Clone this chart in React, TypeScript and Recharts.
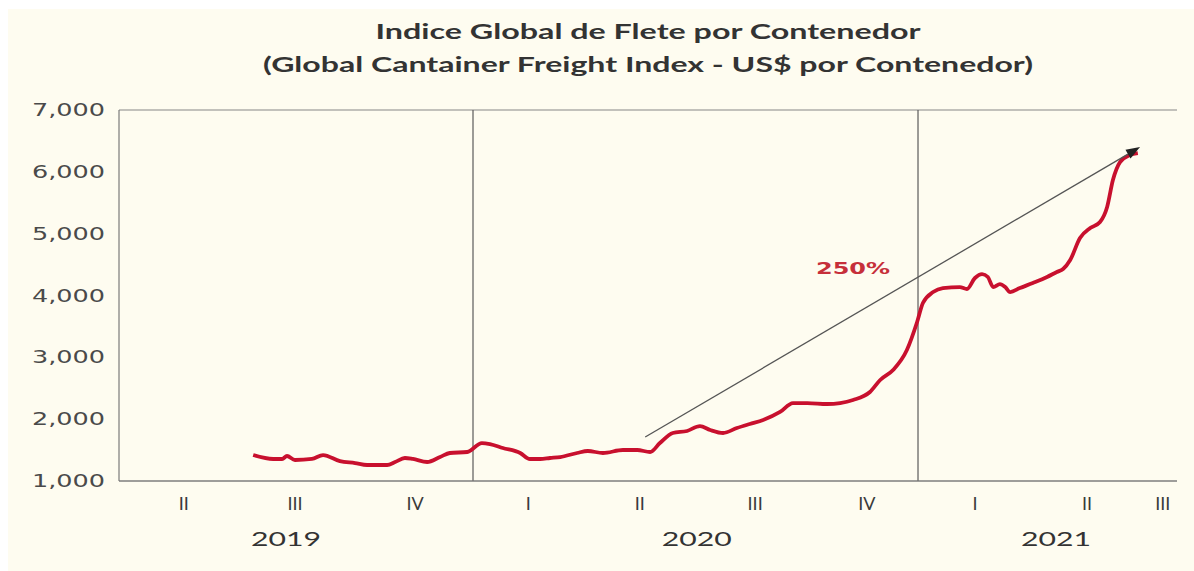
import { LineChart, Line, XAxis, YAxis, CartesianGrid, ReferenceLine, ReferenceDot } from 'recharts';

// weekly index, position as fractional year
const weekPos = [
  2019.506, 2019.551, 2019.571, 2019.582, 2019.6, 2019.638, 2019.663, 2019.701, 2019.735, 2019.762,
  2019.807, 2019.825, 2019.847, 2019.865, 2019.897, 2019.926, 2019.948, 2019.987, 2020.02, 2020.038,
  2020.067, 2020.106, 2020.128, 2020.151, 2020.173, 2020.196, 2020.234, 2020.258, 2020.292, 2020.337,
  2020.369, 2020.398, 2020.42, 2020.449, 2020.481, 2020.51, 2020.533, 2020.562, 2020.593, 2020.622,
  2020.652, 2020.69, 2020.719, 2020.751, 2020.796, 2020.825, 2020.854, 2020.892, 2020.915, 2020.944,
  2020.975, 2020.998, 2021.011, 2021.034, 2021.056, 2021.094, 2021.11, 2021.128, 2021.144, 2021.157,
  2021.169, 2021.184, 2021.196, 2021.207, 2021.229, 2021.258, 2021.29, 2021.312, 2021.326, 2021.342,
  2021.364, 2021.387, 2021.409, 2021.425, 2021.438, 2021.454, 2021.476, 2021.494,
];
const freight = [
  1420, 1356, 1356, 1404, 1340, 1356, 1420, 1323, 1291, 1259,
  1259, 1307, 1372, 1356, 1307, 1388, 1453, 1469, 1614, 1598,
  1534, 1453, 1356, 1356, 1372, 1388, 1453, 1485, 1453, 1501,
  1501, 1469, 1614, 1776, 1809, 1889, 1825, 1776, 1857, 1922,
  1986, 2116, 2261, 2261, 2245, 2261, 2310, 2439, 2633, 2795,
  3118, 3571, 3878, 4056, 4121, 4137, 4105, 4283, 4347, 4299,
  4137, 4185, 4137, 4056, 4121, 4202, 4299, 4380, 4428, 4574,
  4929, 5091, 5188, 5431, 5867, 6158, 6271, 6304,
];

const quarterPos = [2019.35, 2019.6, 2019.87, 2020.124, 2020.375, 2020.634, 2020.885, 2021.128, 2021.38, 2021.55];
const quarterLabels = ['II', 'III', 'IV', 'I', 'II', 'III', 'IV', 'I', 'II', 'III'];
const yearPos = [2019.58, 2020.503, 2021.31];
const yearLabels = ['2019', '2020', '2021'];
const yTicks = [1000, 2000, 3000, 4000, 5000, 6000, 7000];
const yearBreaks = [2020, 2021];
const xDomain = [2019.2045, 2021.582];

// trend arrow and its note
const trendX = [2020.387, 2021.499];
const trendY = [1711, 6401];
const noteX = 2020.854;
const noteY = 4444;
const noteText = '250%';

const titleLines = [
  'Indice Global de Flete por Contenedor',
  '(Global Cantainer Freight Index - US$ por Contenedor)',
];

const data = weekPos.map((t, i) => ({ t, v: freight[i] }));

const YTick = ({ x, y, payload }: any) => (
  <text
    x={x - 6}
    y={y}
    textAnchor="end"
    dominantBaseline="central"
    fontFamily="DejaVu Sans"
    fontSize={17}
    fill="#4a4a4a"
    textLength={73}
    lengthAdjust="spacingAndGlyphs"
  >
    {Number(payload.value).toLocaleString('en-US')}
  </text>
);

const QuarterTick = ({ x, y, index }: any) => (
  <text x={x} y={y + 14} textAnchor="middle" dominantBaseline="central" fontFamily="Lato" fontSize={18} fill="#3a3a3a">
    {quarterLabels[index]}
  </text>
);

const YearTick = ({ x, y, index }: any) => (
  <text
    x={x}
    y={y + 9}
    textAnchor="middle"
    dominantBaseline="central"
    fontFamily="Lato"
    fontSize={20}
    fill="#333"
    textLength={70}
    lengthAdjust="spacingAndGlyphs"
  >
    {yearLabels[index]}
  </text>
);

const Arrow = (props: any) => {
  const { x1, y1, x2, y2 } = props;
  const ang = Math.atan2(y2 - y1, x2 - x1);
  const len = 14;
  const w = 5;
  const bx = x2 - len * Math.cos(ang);
  const by = y2 - len * Math.sin(ang);
  const px = -Math.sin(ang) * w;
  const py = Math.cos(ang) * w;
  return (
    <g>
      <line x1={x1} y1={y1} x2={bx} y2={by} stroke="#555" strokeWidth={1.3} />
      <polygon points={`${x2},${y2} ${bx + px},${by + py} ${bx - px},${by - py}`} fill="#222" />
    </g>
  );
};

const NoteLabel = ({ viewBox }: any) => (
  <text
    x={viewBox.x}
    y={viewBox.y}
    textAnchor="middle"
    dominantBaseline="central"
    fontFamily="DejaVu Sans"
    fontWeight="bold"
    fontSize={16}
    fill="#c62f3a"
    textLength={74}
    lengthAdjust="spacingAndGlyphs"
  >
    {noteText}
  </text>
);

export default function App() {
  return (
    <div style={{ position: 'absolute', left: 0, top: 0, width: 1194, height: 571, background: '#fff' }}>
      <div style={{ position: 'absolute', left: 8, top: 9, right: 0, bottom: 0, background: '#fefcf0' }} />
      <svg width={1194} height={100} style={{ position: 'absolute', left: 0, top: 0 }}>
        <text x={648} y={30} textAnchor="middle" dominantBaseline="central" fontFamily="Lato" fontWeight="bold" fontSize={21} fill="#333" textLength={545} lengthAdjust="spacingAndGlyphs">
          {titleLines[0]}
        </text>
        <text x={648} y={63} textAnchor="middle" dominantBaseline="central" fontFamily="Lato" fontWeight="bold" fontSize={21} fill="#333" textLength={770} lengthAdjust="spacingAndGlyphs">
          {titleLines[1]}
        </text>
      </svg>
      <div style={{ position: 'absolute', left: 0, top: 0 }}>
        <LineChart width={1194} height={571} data={data} margin={{ top: 110, right: 17, bottom: 0, left: 0 }}>
          <CartesianGrid vertical={false} stroke="#858585" strokeWidth={1.2} />
          <XAxis
            xAxisId="q"
            dataKey="t"
            type="number"
            domain={xDomain}
            ticks={quarterPos}
            tick={<QuarterTick />}
            tickLine={false}
            interval={0}
            height={40}
            stroke="#7a7a7a"
            strokeWidth={1.2}
            allowDataOverflow
          />
          <XAxis
            xAxisId="yr"
            dataKey="t"
            type="number"
            domain={xDomain}
            ticks={yearPos}
            tick={<YearTick />}
            tickLine={false}
            axisLine={false}
            interval={0}
            height={50}
            allowDataOverflow
          />
          <YAxis
            yAxisId="l"
            domain={[1000, 7000]}
            ticks={yTicks}
            tick={<YTick />}
            tickLine={false}
            width={119}
            stroke="#7a7a7a"
            strokeWidth={1.2}
            interval={0}
          />
          <YAxis yAxisId="r" orientation="right" domain={[1000, 7000]} tick={false} tickLine={false} width={0} stroke="#7a7a7a" strokeWidth={1.2} />
          {yearBreaks.map((b) => (
            <ReferenceLine key={b} xAxisId="q" yAxisId="l" x={b} stroke="#5a5a5a" strokeWidth={1.2} />
          ))}
          <Line
            xAxisId="q"
            yAxisId="l"
            type="monotone"
            dataKey="v"
            stroke="#c8102e"
            strokeWidth={3.8}
            dot={false}
            isAnimationActive={false}
          />
          <ReferenceLine
            xAxisId="q"
            yAxisId="l"
            segment={[
              { x: trendX[0], y: trendY[0] },
              { x: trendX[1], y: trendY[1] },
            ]}
            shape={<Arrow />}
            ifOverflow="visible"
          />
          <ReferenceDot xAxisId="q" yAxisId="l" x={noteX} y={noteY} r={0} stroke="none" label={<NoteLabel />} />
        </LineChart>
      </div>
    </div>
  );
}
